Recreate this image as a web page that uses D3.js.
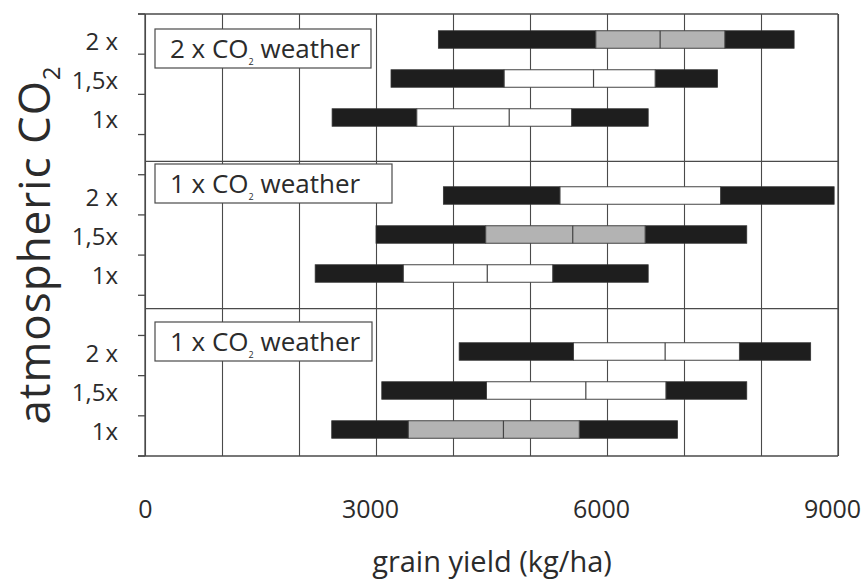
<!DOCTYPE html>
<html>
<head>
<meta charset="utf-8">
<script src="https://cdn.jsdelivr.net/npm/d3@7"></script>
<style>
  body { margin: 0; background: #fff; }
  text { font-family: "Open Sans", "Noto Sans", sans-serif; fill: #2b2b2b; }
</style>
</head>
<body>
<svg id="chart" width="864" height="580"></svg>
<script>
// Data: one bar per panel x CO2 level, read top to bottom
const weatherLabels = ["2 x", "1 x", "1 x"];
const co2Levels = ["2 x", "1,5x", "1x"];
const yieldMin = [3810, 3195, 2430, 3875, 3000, 2210, 4080, 3075, 2425];
const yieldQ1 = [5855, 4665, 3530, 5390, 4425, 3355, 5565, 4435, 3420];
const yieldMed = [6690, 5825, 4730, null, 5555, 4445, 6755, 5725, 4655];
const yieldQ3 = [7530, 6625, 5540, 7475, 6495, 5295, 7720, 6765, 5640];
const yieldMax = [8430, 7435, 6535, 8950, 7815, 6535, 8645, 7815, 6915];
const matched = [true, false, false, false, true, false, false, false, true];
const xTicks = [0, 3000, 6000, 9000];

const svg = d3.select("#chart");

// Scales
const plotLeft = 145, plotRight = 838, plotTop = 14, plotBottom = 456;
const x = d3.scaleLinear().domain([0, 9000]).range([plotLeft, plotRight]);
const rowY = d3.scaleLinear().domain([0, 10]).range([39.5, 429.5]);
const panelY = d3.scaleLinear().domain([0, 3]).range([plotTop, plotBottom]);
const tickY = d3.scaleLinear().domain([0, 11]).range([plotBottom, plotTop]);
const midFill = d3.scaleOrdinal().domain([true, false]).range(["#b3b3b3", "#ffffff"]);

const bars = yieldMin.map((v, i) => ({
  row: Math.floor(i / 3) * 4 + (i % 3),
  level: co2Levels[i % 3],
  min: v, q1: yieldQ1[i], med: yieldMed[i], q3: yieldQ3[i], max: yieldMax[i],
  matched: matched[i]
}));

const lineCol = "#4a4a4a";
const barH = 17.5;

// Vertical grid lines
svg.append("g")
  .attr("transform", `translate(0,${plotBottom})`)
  .call(d3.axisBottom(x).tickValues(d3.range(0, 9001, 1000)).tickSize(-(plotBottom - plotTop)).tickFormat(""))
  .call(g => g.select(".domain").remove())
  .call(g => g.selectAll("line").attr("stroke", lineCol).attr("stroke-width", 1.1));

// Frame + panel dividers
const frame = svg.append("g").attr("stroke", lineCol).attr("stroke-width", 1.3);
frame.append("line").attr("x1", 138).attr("x2", plotRight).attr("y1", plotTop).attr("y2", plotTop);
frame.append("line").attr("x1", 138).attr("x2", plotRight).attr("y1", plotBottom).attr("y2", plotBottom);
frame.append("line").attr("x1", plotLeft).attr("x2", plotLeft).attr("y1", plotTop).attr("y2", plotBottom);
frame.append("line").attr("x1", plotRight).attr("x2", plotRight).attr("y1", plotTop).attr("y2", plotBottom);
frame.selectAll("line.divider")
  .data([1, 2])
  .join("line")
  .attr("class", "divider")
  .attr("x1", plotLeft).attr("x2", plotRight)
  .attr("y1", (d) => panelY(d)).attr("y2", (d) => panelY(d));

// Y tick marks
frame.selectAll("line.ytick")
  .data(d3.range(0, 12))
  .join("line")
  .attr("class", "ytick")
  .attr("x1", 138).attr("x2", plotLeft)
  .attr("y1", (d) => tickY(d)).attr("y2", (d) => tickY(d));

// Bars
const barG = svg.selectAll("g.bar")
  .data(bars)
  .join("g")
  .classed("bar", true)
  .attr("transform", (d) => `translate(0,${rowY(d.row) - barH / 2})`);

barG.append("rect")
  .attr("x", (d) => x(d.min)).attr("width", (d) => x(d.q1) - x(d.min))
  .attr("height", barH).attr("fill", "#1e1e1e").attr("stroke", "#333").attr("stroke-width", 0.8);
barG.append("rect")
  .attr("x", (d) => x(d.q3)).attr("width", (d) => x(d.max) - x(d.q3))
  .attr("height", barH).attr("fill", "#1e1e1e").attr("stroke", "#333").attr("stroke-width", 0.8);
barG.append("rect")
  .attr("x", (d) => x(d.q1)).attr("width", (d) => x(d.q3) - x(d.q1))
  .attr("height", barH).attr("fill", (d) => midFill(d.matched))
  .attr("stroke", "#444").attr("stroke-width", 1);
barG.filter((d) => d.med != null)
  .append("line")
  .attr("x1", (d) => x(d.med)).attr("x2", (d) => x(d.med))
  .attr("y1", 0).attr("y2", barH)
  .attr("stroke", "#444").attr("stroke-width", 1.2);

// Y category labels
svg.selectAll("text.ylab")
  .data(bars)
  .join("text")
  .attr("class", "ylab")
  .attr("x", 118)
  .attr("y", (d) => rowY(d.row) + 10)
  .attr("text-anchor", "end")
  .style("font-size", "24px")
  .text((d) => d.level);

// Panel label boxes
const boxTop = [29, 164, 322];
const boxW = [216, 237, 217];
const boxes = svg.selectAll("g.wbox")
  .data(weatherLabels)
  .join("g")
  .attr("class", "wbox")
  .attr("transform", (d, i) => `translate(155,${boxTop[i]})`);
boxes.append("rect")
  .attr("width", (d, i) => boxW[i]).attr("height", 39)
  .attr("fill", "#fff").attr("stroke", lineCol).attr("stroke-width", 1.2);
const boxText = boxes.append("text")
  .attr("x", 15).attr("y", 28.5)
  .style("font-size", "26px");
boxText.append("tspan").text((d) => d + " CO");
boxText.append("tspan").attr("dy", 7).style("font-size", "9px").text("2");
boxText.append("tspan").attr("dy", -7).text(" weather");

// X tick labels
svg.append("g")
  .attr("transform", `translate(0,${plotBottom})`)
  .call(d3.axisBottom(x).tickValues(xTicks).tickSize(0).tickPadding(44).tickFormat(d3.format("d")))
  .call(g => g.select(".domain").remove())
  .call(g => g.selectAll("text")
    .attr("dx", (d) => (d === 0 ? 0 : -6))
    .style("font-family", '"Open Sans", sans-serif')
    .style("font-size", "25px")
    .attr("fill", "#2b2b2b"));

// Axis titles
svg.append("text")
  .attr("x", 492).attr("y", 572)
  .attr("text-anchor", "middle")
  .style("font-size", "29px")
  .text("grain yield (kg/ha)");

const yTitle = svg.append("text")
  .attr("transform", "translate(50,245) rotate(-90)")
  .attr("text-anchor", "middle")
  .style("font-size", "44px")
  .style("letter-spacing", "1px");
yTitle.append("tspan").text("atmospheric CO");
yTitle.append("tspan").attr("dy", 10).style("font-size", "24px").text("2");
</script>
</body>
</html>
